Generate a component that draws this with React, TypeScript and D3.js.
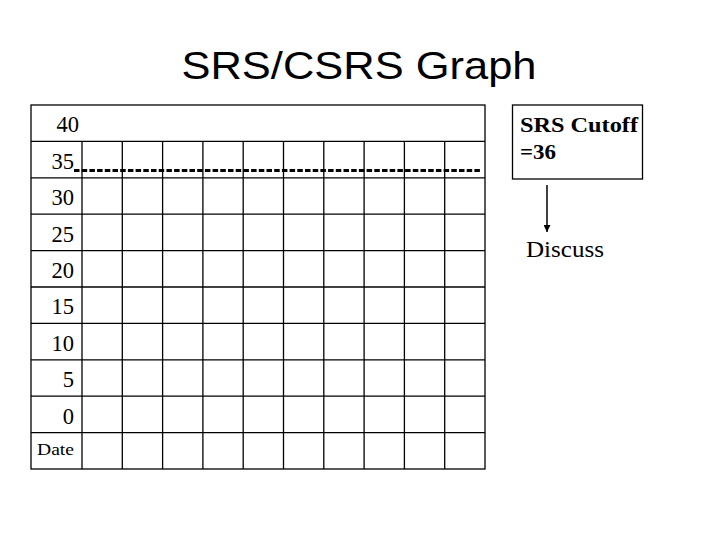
import * as d3 from "d3";

// row labels, top to bottom (score ticks plus the date row)
const rowLabels = ["40", "35", "30", "25", "20", "15", "10", "5", "0", "Date"];
// empty date columns to be filled in by hand
const dateColumns = [1, 2, 3, 4, 5, 6, 7, 8, 9, 10];
const cutoffValue = 36;
const scoreTicks = [0, 40];

const title = "SRS/CSRS Graph";
const noteLines = ["SRS Cutoff", `=${cutoffValue}`];
const noteAction = "Discuss";

const W = 720;
const H = 540;
const serif = "'Liberation Serif', 'Times New Roman', serif";
const sans = "'Liberation Sans', Arial, sans-serif";

const App = () => {
  const tableLeft = 31;
  const labelRight = 82;
  const tableRight = 485;
  const tableTop = 105;
  const tableBottom = 469;

  const y = d3
    .scaleBand<string>()
    .domain(rowLabels)
    .range([tableTop, tableBottom]);
  const x = d3
    .scaleBand<number>()
    .domain(dateColumns)
    .range([labelRight, tableRight]);

  // score -> bottom edge of the row that carries that label
  const yScore = d3
    .scaleLinear()
    .domain(scoreTicks)
    .range([
      y(String(scoreTicks[0]))! + y.bandwidth(),
      y(String(scoreTicks[1]))! + y.bandwidth(),
    ]);
  const cutoffY = yScore(cutoffValue);

  const firstGridRow = y(rowLabels[1])!;

  return (
    <svg width={W} height={H} style={{ position: "absolute", left: 0, top: 0, background: "#fff" }}>
      <defs>
        <marker
          id="arrow"
          viewBox="0 0 10 10"
          refX="10"
          refY="5"
          markerWidth="7"
          markerHeight="7"
          markerUnits="userSpaceOnUse"
          orient="auto"
        >
          <path d="M0,0 L10,5 L0,10 z" fill="#000" />
        </marker>
      </defs>

      <text
        x={359}
        y={79}
        textAnchor="middle"
        fontFamily={sans}
        fontSize={39}
        textLength={355}
        lengthAdjust="spacingAndGlyphs"
        fill="#000"
      >
        {title}
      </text>

      {/* table frame */}
      <rect
        x={tableLeft}
        y={tableTop}
        width={tableRight - tableLeft}
        height={tableBottom - tableTop}
        fill="none"
        stroke="#000"
        strokeWidth={1.3}
      />

      {/* horizontal row lines */}
      {rowLabels.slice(1).map((r) => (
        <line
          key={"h" + r}
          x1={tableLeft}
          x2={tableRight}
          y1={y(r)}
          y2={y(r)}
          stroke="#000"
          strokeWidth={1.3}
        />
      ))}

      {/* vertical column lines, below the top row */}
      {dateColumns.map((c) => (
        <line
          key={"v" + c}
          x1={x(c)}
          x2={x(c)}
          y1={firstGridRow}
          y2={tableBottom}
          stroke="#000"
          strokeWidth={1.3}
        />
      ))}

      {/* row labels */}
      {rowLabels.map((r, i) => {
        const bottom = y(r)! + y.bandwidth();
        if (r === "Date") {
          return (
            <text
              key={r}
              x={37}
              y={bottom - 14}
              fontFamily={serif}
              fontSize={16}
              textLength={37}
              lengthAdjust="spacingAndGlyphs"
            >
              {r}
            </text>
          );
        }
        return (
          <text
            key={r}
            x={i === 0 ? 79 : 74}
            y={bottom - 9}
            textAnchor="end"
            fontFamily={serif}
            fontSize={22.5}
          >
            {r}
          </text>
        );
      })}

      {/* cutoff line */}
      <line
        x1={74}
        x2={480}
        y1={cutoffY}
        y2={cutoffY}
        stroke="#000"
        strokeWidth={3}
        strokeDasharray="5.5,2.2"
      />

      {/* cutoff note */}
      <rect x={512.5} y={105} width={130} height={74} fill="none" stroke="#000" strokeWidth={1.3} />
      {noteLines.map((t, i) => (
        <text
          key={t}
          x={520}
          y={132 + i * 26.5}
          fontFamily={serif}
          fontWeight="bold"
          fontSize={21.5}
          textLength={i === 0 ? 118 : 36}
          lengthAdjust="spacingAndGlyphs"
        >
          {t}
        </text>
      ))}
      <line
        x1={547}
        x2={547}
        y1={185}
        y2={232}
        stroke="#000"
        strokeWidth={1.5}
        markerEnd="url(#arrow)"
      />
      <text
        x={526}
        y={257}
        fontFamily={serif}
        fontSize={23}
        textLength={78}
        lengthAdjust="spacingAndGlyphs"
      >
        {noteAction}
      </text>
    </svg>
  );
};

export default App;
